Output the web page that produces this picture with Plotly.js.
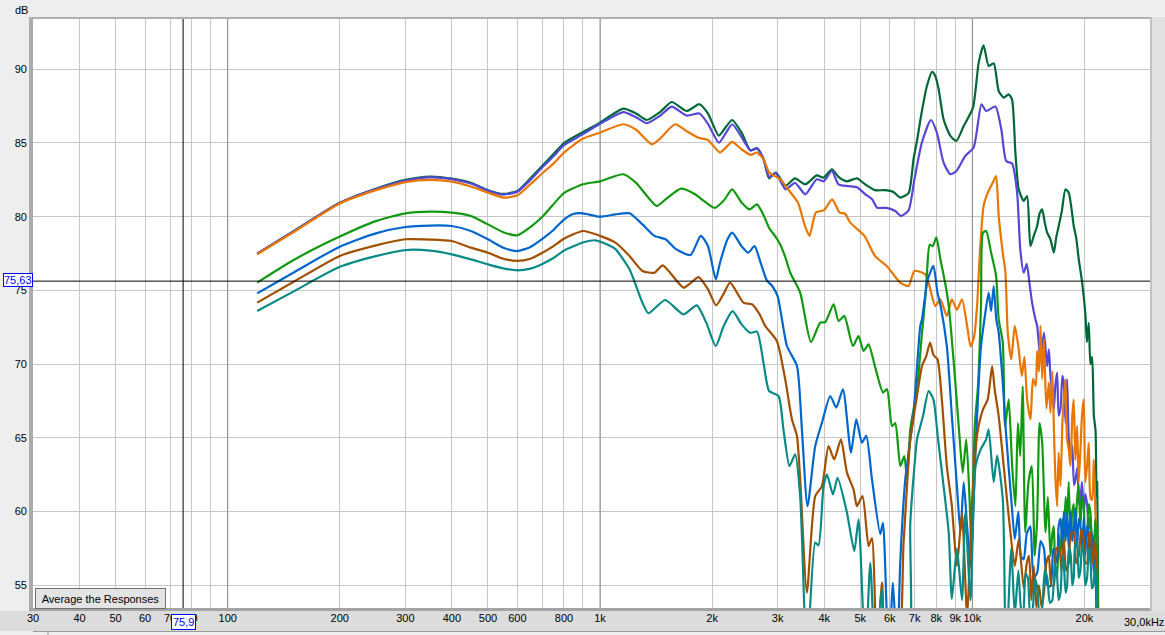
<!DOCTYPE html>
<html><head><meta charset="utf-8">
<script src="https://cdn.plot.ly/plotly-3.0.1.min.js"></script>
<style>html,body{margin:0;padding:0;background:#eeeeee;overflow:hidden}</style>
</head><body><div id="chart" style="width:1165px;height:635px"></div>
<script>
// ---- data: [frequency Hz, level dB] ----
const curveDarkGreen = [[120,77.5],[150,79.0],[200,80.95],[250,81.9],[300,82.5],[350,82.72],[400,82.58],[450,82.3],[500,81.8],[550,81.55],[600,81.75],[650,82.6],[700,83.45],[750,84.25],[800,85.0],[900,85.75],[1000,86.38],[1155,87.33],[1250,87.0],[1335,86.56],[1450,87.1],[1558,87.78],[1710,87.17],[1850,87.63],[1950,87.0],[2085,85.5],[2180,86.1],[2265,86.56],[2400,85.7],[2535,84.5],[2640,84.62],[2750,83.9],[2845,82.6],[2965,83.0],[3150,82.1],[3340,82.6],[3560,82.2],[3820,82.8],[3985,82.65],[4195,83.22],[4370,82.7],[4600,82.4],[4900,82.6],[5150,82.2],[5480,81.8],[5800,81.8],[6140,81.68],[6400,81.3],[6740,81.6],[6950,83.9],[7100,85.14],[7320,87.17],[7550,88.87],[7800,89.82],[7950,89.55],[8120,88.64],[8370,86.6],[8730,85.48],[9060,85.14],[9480,86.15],[10040,87.4],[10400,90.45],[10720,91.63],[11060,90.23],[11410,90.41],[11770,88.53],[12140,88.08],[12520,88.3],[12780,87.96],[13050,84.35],[13320,81.86],[13740,81.07],[14030,81.4],[14320,78.0],[14620,78.7],[14930,79.37],[15150,80.2],[15400,80.5],[15650,79.6],[15880,78.92],[16210,78.47],[16550,77.56],[16800,78.6],[17060,79.37],[17400,80.4],[17780,81.86],[18150,81.63],[18450,80.6],[18720,79.37],[19000,78.6],[19310,77.11],[19720,75.53],[20130,73.3],[20300,71.5],[20540,72.8],[20750,70.0],[20980,70.5],[21200,66.5],[21420,65.5],[21550,61.0],[21640,62.0],[21750,55.0],[21820,50.0]];

const curvePurple = [[120,77.5],[150,79.0],[200,80.93],[250,81.87],[300,82.45],[350,82.67],[400,82.55],[450,82.25],[500,81.77],[550,81.5],[600,81.7],[650,82.5],[700,83.35],[750,84.1],[800,84.85],[900,85.6],[1000,86.3],[1155,87.1],[1250,86.75],[1335,86.34],[1450,86.85],[1558,87.47],[1710,86.86],[1850,87.0],[1950,86.3],[2085,85.02],[2180,85.7],[2265,86.27],[2400,85.4],[2535,84.5],[2640,84.65],[2750,83.9],[2845,82.7],[2965,82.95],[3150,81.86],[3340,82.3],[3560,81.52],[3820,82.54],[3985,82.4],[4195,83.1],[4370,82.2],[4650,82.08],[4900,82.0],[5160,81.52],[5380,81.18],[5550,80.61],[5880,80.6],[6210,80.39],[6430,80.05],[6740,80.43],[6990,82.54],[7320,85.03],[7740,86.56],[8030,85.7],[8370,83.67],[8730,82.88],[9060,83.1],[9570,84.12],[10080,84.69],[10580,87.63],[10890,87.17],[11530,87.47],[11960,85.93],[12330,83.78],[12790,83.6],[13190,81.63],[13450,77.79],[13740,76.2],[14000,76.8],[14230,75.53],[14470,74.17],[14770,73.04],[14930,72.6],[15240,70.33],[15570,72.14],[15880,69.87],[16050,71.0],[16210,69.19],[16400,68.0],[16550,66.93],[16700,68.5],[16890,69.42],[17050,66.5],[17250,67.0],[17450,69.2],[17600,68.74],[17800,66.0],[17970,68.97],[18150,65.0],[18350,63.54],[18550,64.5],[18750,61.8],[18930,62.18],[19150,63.0],[19350,60.5],[19510,60.83],[19700,62.0],[19920,59.93],[20100,61.2],[20330,60.5],[20550,58.8],[20760,59.7],[20980,57.5],[21190,55.85],[21400,57.0],[21640,50.0]];

const curveOrange = [[120,77.45],[150,78.95],[200,80.9],[250,81.8],[300,82.35],[350,82.5],[400,82.38],[450,82.05],[500,81.63],[550,81.3],[600,81.45],[650,82.2],[700,82.95],[750,83.6],[800,84.35],[900,85.3],[1000,85.7],[1155,86.27],[1250,85.9],[1380,84.91],[1450,85.3],[1590,86.27],[1710,85.8],[1837,85.36],[1950,85.2],[2100,84.35],[2180,84.7],[2265,85.07],[2400,84.57],[2535,84.2],[2640,84.35],[2750,83.9],[2845,83.0],[3047,82.54],[3200,81.86],[3400,80.96],[3550,79.4],[3653,78.7],[3800,80.28],[4000,80.45],[4200,81.18],[4400,80.28],[4550,80.2],[4700,79.6],[5130,78.7],[5480,77.33],[5890,76.66],[6400,75.53],[6740,75.3],[6990,76.32],[7480,76.09],[7950,73.94],[8200,74.4],[8540,73.27],[8810,74.4],[9090,73.7],[9380,74.4],[9680,72.6],[9890,71.2],[10100,71.8],[10300,74.0],[10450,77.11],[10720,80.73],[11000,81.63],[11400,82.42],[11580,82.76],[11770,80.05],[12070,77.56],[12270,76.2],[12450,72.13],[12720,70.33],[13000,72.6],[13290,71.2],[13580,69.2],[13800,70.5],[14030,67.61],[14330,66.26],[14550,69.0],[14800,68.52],[14930,70.9],[15100,69.5],[15240,72.6],[15400,69.0],[15570,71.7],[15800,67.0],[16050,68.74],[16210,66.7],[16400,69.5],[16550,65.8],[16700,62.5],[16890,60.37],[17050,64.0],[17250,61.73],[17450,66.0],[17600,67.6],[17780,68.97],[17950,65.0],[18150,64.2],[18350,63.09],[18550,66.5],[18720,67.6],[18900,63.5],[19110,65.8],[19300,62.0],[19510,64.2],[19700,66.5],[19920,67.61],[20100,62.0],[20330,63.1],[20540,64.67],[20750,61.0],[20980,60.8],[21190,63.54],[21400,60.0],[21550,58.6],[21730,50.0]];

const curveGreen = [[120,75.53],[150,77.05],[200,78.65],[250,79.7],[300,80.23],[350,80.35],[400,80.28],[450,80.05],[500,79.48],[550,78.95],[600,78.74],[650,79.3],[700,80.0],[750,80.85],[800,81.6],[900,82.2],[1000,82.4],[1155,82.88],[1250,82.3],[1420,80.73],[1500,81.18],[1650,81.9],[1800,81.52],[1900,81.07],[2030,80.6],[2150,81.1],[2265,81.86],[2400,80.96],[2520,80.5],[2640,80.84],[2750,80.1],[2850,79.2],[2950,78.7],[3050,78.1],[3150,77.2],[3243,76.2],[3448,74.85],[3685,71.5],[3903,72.81],[4025,72.85],[4240,74.06],[4372,72.92],[4529,73.27],[4778,71.23],[4947,71.91],[5103,70.89],[5263,71.34],[5486,69.76],[5754,68.07],[5899,68.3],[6085,65.8],[6208,66.0],[6405,63.09],[6565,63.77],[6676,62.2],[6813,65.58],[7101,68.3],[7324,72.1],[7480,74.6],[7554,76.2],[7680,78.1],[7830,78.0],[8004,78.6],[8210,77.1],[8480,75.3],[8644,73.94],[8930,69.87],[9220,65.35],[9420,62.64],[9630,64.9],[9830,60.83],[9950,57.5],[10150,65.8],[10370,68.74],[10550,74.0],[10680,78.92],[10890,79.03],[11230,77.56],[11580,75.98],[11770,73.04],[12070,71.5],[12240,65.8],[12520,67.61],[12790,63.09],[13050,60.37],[13250,66.0],[13450,63.77],[13650,68.5],[13870,58.58],[14150,62.0],[14450,63.09],[14700,57.0],[14930,59.5],[15150,66.0],[15400,64.67],[15720,58.6],[15950,61.0],[16210,56.98],[16400,58.5],[16550,59.0],[16700,56.0],[16890,55.5],[17050,58.5],[17250,57.0],[17450,59.5],[17600,58.0],[17800,61.0],[17970,59.47],[18150,62.0],[18350,58.0],[18550,60.0],[18720,60.5],[18900,58.6],[19110,60.83],[19300,61.8],[19510,59.0],[19700,61.0],[19920,60.37],[20100,58.0],[20330,58.5],[20550,60.5],[20760,59.9],[20980,58.0],[21200,58.0],[21400,59.5],[21640,57.0],[21820,50.0]];

const curveBlue = [[120,74.8],[150,76.2],[200,77.97],[250,78.87],[300,79.3],[350,79.4],[400,79.37],[450,79.03],[500,78.47],[550,77.9],[600,77.67],[650,77.95],[700,78.5],[750,79.1],[800,79.8],[850,80.2],[900,80.23],[1000,80.0],[1100,80.16],[1200,80.23],[1300,79.48],[1400,78.7],[1500,78.47],[1600,77.8],[1750,77.4],[1865,78.7],[1950,78.0],[2046,75.75],[2100,76.88],[2200,78.47],[2265,78.92],[2400,78.0],[2500,77.56],[2600,78.0],[2700,76.88],[2806,75.68],[2900,75.3],[3000,74.6],[3177,71.23],[3380,69.87],[3485,65.58],[3608,60.37],[3784,64.44],[3945,66.03],[4153,67.84],[4310,67.05],[4493,68.29],[4720,64.0],[4878,66.26],[5052,64.67],[5189,65.13],[5375,62.2],[5658,58.47],[5754,59.24],[5957,50.0],[6121,55.17],[6276,50.0],[6405,56.64],[6606,62.2],[6743,64.0],[6954,66.7],[7248,72.6],[7324,73.04],[7590,75.75],[7860,76.66],[8060,74.85],[8210,74.0],[8540,71.23],[8810,66.48],[9090,61.73],[9290,58.58],[9480,62.0],[9680,59.0],[9890,56.3],[10200,64.22],[10530,71.0],[10770,73.0],[11060,74.85],[11230,73.6],[11410,75.3],[11600,73.0],[11770,72.13],[12070,68.74],[12310,65.35],[12720,60.83],[13000,58.13],[13290,60.0],[13500,57.0],[13740,56.76],[14000,58.5],[14320,59.0],[14600,55.5],[14930,55.85],[15250,58.0],[15570,57.5],[15900,55.0],[16210,54.94],[16500,57.5],[16890,56.5],[17050,59.0],[17250,59.5],[17450,57.5],[17600,60.0],[17800,58.0],[17970,59.92],[18150,57.5],[18350,60.0],[18550,58.0],[18720,58.8],[18900,60.2],[19110,57.5],[19300,59.5],[19510,59.0],[19700,57.5],[19920,59.6],[20100,57.0],[20330,59.0],[20540,58.6],[20760,56.5],[20980,58.5],[21190,57.8],[21400,56.0],[21700,50.0]];

const curveBrown = [[120,74.17],[150,75.57],[200,77.34],[250,78.06],[300,78.47],[350,78.45],[400,78.35],[450,77.9],[500,77.56],[550,77.15],[600,77.0],[650,77.15],[700,77.55],[750,78.0],[800,78.5],[900,79.03],[1000,78.7],[1100,78.24],[1200,77.33],[1300,76.32],[1400,76.2],[1474,76.7],[1675,75.19],[1750,75.5],[1840,75.9],[1950,75.07],[2050,73.99],[2150,74.8],[2236,75.53],[2428,74.17],[2557,74.06],[2680,73.4],[2777,72.6],[2985,71.57],[3143,68.97],[3276,66.26],[3380,65.13],[3448,62.2],[3594,54.5],[3784,61.05],[3945,61.73],[4109,64.44],[4256,63.54],[4436,64.9],[4605,62.64],[4797,61.5],[4898,60.37],[5071,61.05],[5263,57.66],[5375,58.2],[5543,50.0],[5720,55.2],[5899,50.0],[6276,50.0],[6536,57.9],[6743,63.5],[6813,64.9],[7101,67.84],[7324,69.87],[7520,70.55],[7700,71.46],[7870,70.6],[8060,70.33],[8280,67.61],[8540,63.09],[8810,60.37],[9090,56.3],[9380,59.9],[9680,53.0],[9990,60.83],[10320,65.35],[10680,66.93],[11000,67.61],[11300,69.87],[11480,68.3],[11770,66.48],[12140,63.09],[12520,59.7],[13000,56.3],[13320,58.1],[13740,54.8],[14000,56.5],[14200,57.0],[14400,54.0],[14620,56.3],[14850,53.5],[15100,55.0],[15350,53.5],[15570,54.5],[15800,56.5],[16050,57.0],[16300,55.0],[16550,55.0],[16800,57.5],[17100,57.5],[17350,56.0],[17600,58.13],[17850,56.0],[18150,56.5],[18400,58.5],[18720,58.58],[19000,56.5],[19310,57.0],[19600,58.8],[19920,58.1],[20100,56.5],[20330,56.5],[20550,58.5],[20760,58.6],[21000,56.5],[21200,57.0],[21400,58.0],[21550,56.0],[21800,50.0]];

const curveTeal = [[120,73.6],[150,74.92],[200,76.6],[250,77.33],[300,77.74],[350,77.7],[400,77.45],[450,77.11],[500,76.77],[550,76.5],[600,76.36],[650,76.48],[700,76.8],[750,77.2],[800,77.7],[900,78.25],[970,78.4],[1050,78.1],[1100,77.8],[1200,76.43],[1300,74.17],[1349,73.45],[1496,74.35],[1675,73.38],[1819,73.99],[1930,72.8],[2046,71.23],[2150,72.6],[2270,73.6],[2400,72.7],[2530,72.13],[2640,72.2],[2748,70.1],[2845,68.18],[3016,67.84],[3109,65.58],[3227,63.09],[3343,63.88],[3448,61.05],[3594,50.0],[3784,57.9],[3863,57.7],[3985,61.73],[4070,62.52],[4223,61.16],[4345,62.29],[4605,59.92],[4818,57.32],[4947,59.47],[5158,50.0],[5319,56.53],[5486,50.0],[5720,54.7],[5900,50.0],[6676,50.0],[6813,59.24],[7027,63.77],[7101,64.9],[7370,66.48],[7630,68.18],[7860,67.6],[8090,64.9],[8370,61.73],[8640,58.58],[8810,54.07],[9090,57.5],[9380,54.0],[9570,59.92],[9890,54.0],[10200,63.09],[10530,64.22],[10890,64.9],[11060,65.58],[11410,62.0],[11650,63.8],[12070,60.83],[12310,50.0],[12720,57.5],[13000,53.0],[13290,56.0],[13500,53.5],[13700,53.0],[13900,55.8],[14100,55.5],[14300,53.0],[14500,53.2],[14700,55.5],[14900,55.0],[15150,53.0],[15400,53.5],[15650,56.0],[15900,55.5],[16150,53.8],[16400,54.0],[16650,56.5],[16890,55.6],[17050,54.0],[17250,54.5],[17450,57.0],[17600,56.5],[17800,54.5],[17970,55.0],[18150,57.5],[18350,57.2],[18550,55.0],[18720,55.5],[18900,57.8],[19110,57.9],[19300,55.5],[19510,56.0],[19700,57.8],[19920,57.2],[20100,55.0],[20330,55.5],[20550,57.5],[20760,56.8],[20950,54.8],[21150,55.0],[21350,56.5],[21550,55.0],[21800,50.0]];

const cursorFreq = 75.9;
const cursorLevel = 75.63;

const xTickVals = [30,40,50,60,70,80,90,100,200,300,400,500,600,700,800,900,1000,2000,3000,4000,5000,6000,7000,8000,9000,10000,20000,30000];
const xTickText = ['30','40','50','60','70','80','','100','200','300','400','500','600','','800','','1k','2k','3k','4k','5k','6k','7k','8k','9k','10k','20k',''];
const yTickVals = [55,60,65,70,75,80,85,90];
const yTickText = ['55','60','65','70','75','80','85','90'];
const decadeLines = [100,1000,10000];

// ---- styling ----
const series = [
  {pts: curveDarkGreen, color: '#006837'},
  {pts: curvePurple, color: '#5548d6'},
  {pts: curveOrange, color: '#e87600'},
  {pts: curveGreen, color: '#129912'},
  {pts: curveBlue, color: '#0066cc'},
  {pts: curveBrown, color: '#a05000'},
  {pts: curveTeal, color: '#0a8a86'}
];

const traces = [];
decadeLines.forEach(f => traces.push({type:'scatter', mode:'lines', x:[f,f], y:[40,110],
  line:{color:'#8c8c8c', width:1}, hoverinfo:'skip'}));
series.forEach(s => traces.push({type:'scatter', mode:'lines',
  x: s.pts.map(p => p[0]), y: s.pts.map(p => p[1]),
  line:{color:s.color, width:2.2, shape:'spline', smoothing:0.6}, hoverinfo:'skip'}));
traces.push({type:'scatter', mode:'lines', x:[cursorFreq,cursorFreq], y:[40,110], line:{color:'#000', width:1}, hoverinfo:'skip'});
traces.push({type:'scatter', mode:'lines', x:[20,40000], y:[cursorLevel,cursorLevel], line:{color:'#000', width:1}, hoverinfo:'skip'});

// pixel helpers (plot area: x 33..1150, y 19..608)
const L = 33, W = 1117, B = 608, H = 589;
const px = v => (v - L) / W;
const py = v => (B - v) / H;
const xMin = 30, xMax = 30000;
const xFrac = f => (Math.log10(f) - Math.log10(xMin)) / (Math.log10(xMax) - Math.log10(xMin));

const rect = (x0, y0, x1, y1, fill) => ({type:'rect', xref:'paper', yref:'paper',
  x0: px(x0), x1: px(x1), y0: py(y1), y1: py(y0), fillcolor: fill, line:{width:0}, layer:'below'});

const shapes = [
  rect(0, 611, 1165, 631, '#dcdcdc'),
  rect(29, 17, 33, 611, '#ababab'),
  rect(29, 17, 1152, 19, '#b0b0b0'),
  rect(29, 608, 1152, 611, '#a4a4a4'),
  rect(1150, 17, 1165, 611, '#e2e2e2'),
  rect(1150, 17, 1152, 611, '#c2c2c2'),
  {type:'line', xref:'paper', yref:'paper', x0: px(33), x1: px(1165), y0: py(631.5), y1: py(631.5), line:{color:'#9a9a9a', width:1}, layer:'below'},
  {type:'line', xref:'paper', yref:'paper', x0: px(48), x1: px(48), y0: py(631.5), y1: py(635), line:{color:'#9a9a9a', width:1}, layer:'below'}
];

const fontFam = 'Liberation Sans, Arial, sans-serif';
const annotations = [
  {xref:'paper', yref:'paper', x: px(21), y: py(10.5), text:'dB', showarrow:false, xanchor:'center', yanchor:'middle', font:{size:11, color:'#000', family:fontFam}},
  {xref:'paper', yref:'paper', x: px(1144), y: py(621.5), text:'30,0kHz', showarrow:false, xanchor:'center', yanchor:'middle', font:{size:11, color:'#000', family:fontFam}},
  {xref:'paper', yref:'y', x: px(32.5), y: cursorLevel, yshift:1, text: String(cursorLevel).replace('.', ','), showarrow:false, xanchor:'right', yanchor:'middle',
    bgcolor:'#ffffff', bordercolor:'#0000ff', borderwidth:1, borderpad:0, font:{size:11, color:'#0000ff', family:fontFam}},
  {xref:'paper', yref:'paper', x: xFrac(cursorFreq), y: py(621.5), text: String(cursorFreq).replace('.', ','), showarrow:false, xanchor:'center', yanchor:'middle',
    bgcolor:'#ffffff', bordercolor:'#0000ff', borderwidth:1, borderpad:1, font:{size:11, color:'#0000ff', family:fontFam}},
  {xref:'paper', yref:'paper', x: px(35), y: py(609), text:'Average the Responses', showarrow:false, xanchor:'left', yanchor:'bottom',
    width:127, height:17, bgcolor:'#e4e4e4', bordercolor:'#707070', borderwidth:1, borderpad:1, font:{size:11, color:'#000', family:fontFam}}
];

const layout = {
  width:1165, height:635,
  margin:{l:33, r:15, t:19, b:27, pad:0},
  paper_bgcolor:'#eeeeee', plot_bgcolor:'#ffffff',
  showlegend:false, hovermode:false,
  font:{family:fontFam, size:11, color:'#000'},
  xaxis:{type:'log', range:[Math.log10(xMin), Math.log10(xMax)], tickmode:'array', tickvals:xTickVals, ticktext:xTickText,
    showgrid:true, gridcolor:'#c6c6c6', gridwidth:1, zeroline:false, showline:false, ticks:'', ticklen:0, ticklabelstandoff:2,
    tickangle:0, tickfont:{size:11, color:'#000'}, fixedrange:true},
  yaxis:{range:[53.46, 93.41], tickmode:'array', tickvals:yTickVals, ticktext:yTickText,
    showgrid:true, gridcolor:'#c6c6c6', gridwidth:1, zeroline:false, showline:false, ticks:'', ticklen:0, ticklabelstandoff:5,
    tickfont:{size:11, color:'#000'}, fixedrange:true},
  shapes: shapes,
  annotations: annotations
};

Plotly.newPlot('chart', traces, layout, {staticPlot:true, displayModeBar:false});
</script></body></html>
